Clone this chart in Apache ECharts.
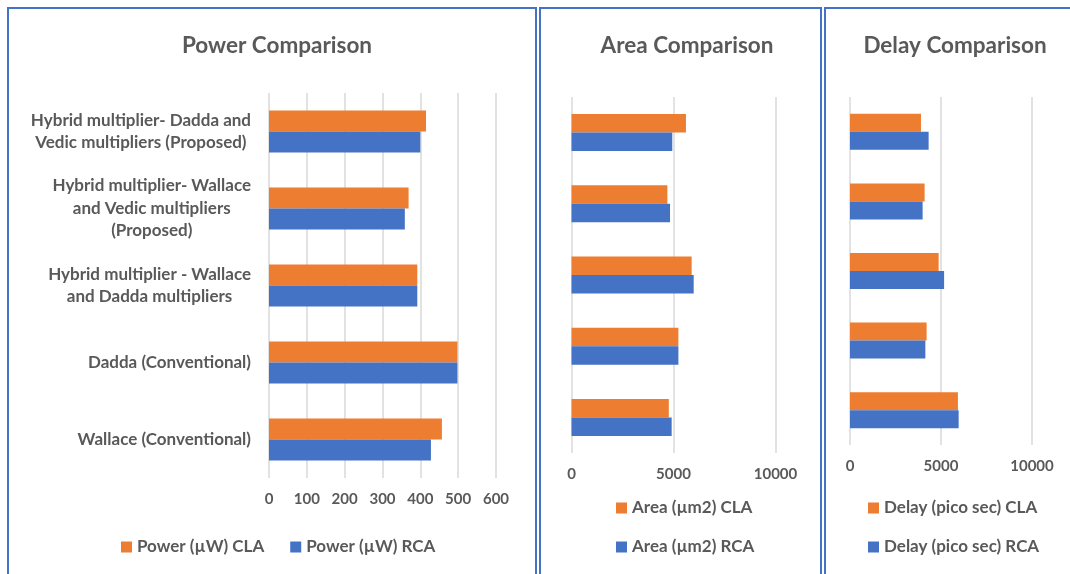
<!DOCTYPE html>
<html>
<head>
<meta charset="utf-8">
<script src="https://cdn.jsdelivr.net/npm/echarts@6/dist/echarts.min.js"></script>
<style>
  html, body { margin: 0; padding: 0; background: #ffffff; }
  #chart { width: 1070px; height: 574px; }
</style>
</head>
<body>
<div id="chart"></div>
<script>
// Multiplier designs, listed top to bottom
const categories = [
  'Hybrid multiplier- Dadda and\nVedic multipliers (Proposed)',
  'Hybrid multiplier- Wallace\nand Vedic multipliers\n(Proposed)',
  'Hybrid multiplier - Wallace\nand Dadda multipliers',
  'Dadda (Conventional)',
  'Wallace (Conventional)'
];

const powerCLA = [415, 369, 392, 498, 457];
const powerRCA = [400, 359, 392, 498, 428];

const areaCLA = [5610, 4700, 5890, 5240, 4770];
const areaRCA = [4940, 4830, 5990, 5240, 4910];

const delayCLA = [3900, 4100, 4870, 4210, 5930];
const delayRCA = [4320, 3990, 5170, 4140, 5970];

const panelTitles = ['Power Comparison', 'Area Comparison', 'Delay Comparison'];
const seriesNames = [
  ['Power (µW) CLA', 'Power (µW) RCA'],
  ['Area (µm2) CLA', 'Area (µm2) RCA'],
  ['Delay (pico sec) CLA', 'Delay (pico sec) RCA']
];

const ORANGE = '#ED7D31';
const BLUE = '#4472C4';
const TEXT = '#595959';
const GRIDLINE = '#D9D9D9';
const FONT = 'Lato, "Open Sans", sans-serif';

const grids = [
  { left: 269, top: 93, width: 227, height: 385 },
  { left: 571.5, top: 97, width: 204, height: 356 },
  { left: 850, top: 97, width: 182, height: 348 }
];
const axisMax = [600, 10000, 10000];
const axisStep = [100, 5000, 5000];
const barWidths = [21, 18.5, 18];
const titleX = [272, 682, 950];

const chart = echarts.init(document.getElementById('chart'), null, { renderer: 'canvas' });

const xAxes = grids.map((g, i) => ({
  type: 'value',
  gridIndex: i,
  min: 0,
  max: axisMax[i],
  interval: axisStep[i],
  axisLine: { show: false },
  axisTick: { show: false },
  splitLine: { show: true, lineStyle: { color: GRIDLINE, width: 1.5 } },
  axisLabel: {
    color: TEXT, fontFamily: FONT, fontWeight: 'bold', fontSize: 15, margin: 14,
    formatter: v => String(v)
  }
}));

const yAxes = grids.map((g, i) => ({
  type: 'category',
  gridIndex: i,
  data: categories,
  inverse: true,
  axisLine: { show: false },
  axisTick: { show: false },
  splitLine: { show: false },
  axisLabel: i === 0 ? {
    margin: 18,
    formatter: v => v.split('\n').map(l => '{c|' + l + '}').join('\n'),
    rich: {
      c: { align: 'center', color: TEXT, fontFamily: FONT, fontWeight: 'bold', fontSize: 17, lineHeight: 22.5 }
    }
  } : { show: false }
}));

const valueSets = [[powerCLA, powerRCA], [areaCLA, areaRCA], [delayCLA, delayRCA]];
const series = [];
valueSets.forEach((pair, i) => {
  pair.forEach((vals, j) => {
    series.push({
      type: 'bar',
      name: seriesNames[i][j],
      xAxisIndex: i,
      yAxisIndex: i,
      data: vals,
      barWidth: barWidths[i],
      barGap: '0%',
      itemStyle: { color: j === 0 ? ORANGE : BLUE },
      silent: true
    });
  });
});

const titles = panelTitles.map((t, i) => ({
  text: t,
  left: titleX[i],
  top: 29,
  textAlign: 'center',
  textStyle: { color: TEXT, fontFamily: FONT, fontWeight: 'bold', fontSize: 22.5 }
}));

const legendText = { color: TEXT, fontFamily: FONT, fontWeight: 'bold', fontSize: 17, lineHeight: 20 };
const legends = [
  {
    data: seriesNames[0], orient: 'horizontal', left: 116, top: 532,
    itemWidth: 11, itemHeight: 11, itemGap: 26, icon: 'rect', textStyle: legendText
  },
  {
    data: seriesNames[1], orient: 'vertical', left: 611, top: 493,
    itemWidth: 11, itemHeight: 11, itemGap: 19, icon: 'rect', textStyle: legendText
  },
  {
    data: seriesNames[2], orient: 'vertical', left: 863, top: 493,
    itemWidth: 11, itemHeight: 11, itemGap: 19, icon: 'rect', textStyle: legendText
  }
];

// Panel frames
const frames = [
  { x: 8, y: 8, width: 528, height: 620 },
  { x: 540, y: 8, width: 281, height: 620 },
  { x: 825, y: 8, width: 300, height: 620 }
].map(r => ({
  type: 'rect',
  shape: r,
  style: { fill: 'none', stroke: BLUE, lineWidth: 2 },
  silent: true,
  z: 10
}));

chart.setOption({
  animation: false,
  backgroundColor: '#ffffff',
  title: titles,
  legend: legends,
  grid: grids,
  xAxis: xAxes,
  yAxis: yAxes,
  series: series,
  graphic: frames
});
</script>
</body>
</html>
